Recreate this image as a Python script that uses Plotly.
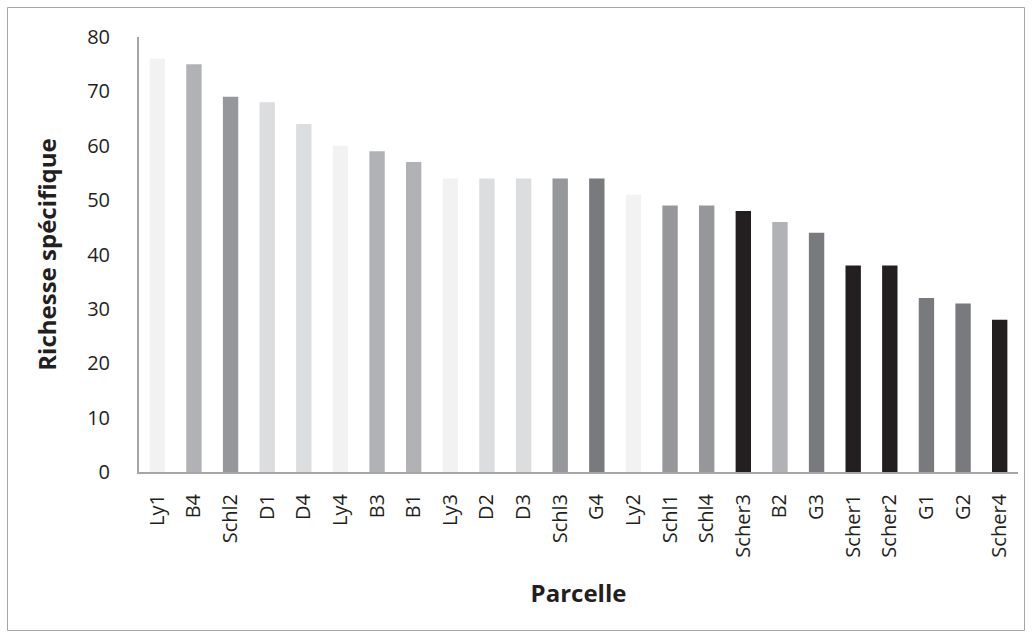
import plotly.graph_objects as go

categories = ["Ly1", "B4", "Schl2", "D1", "D4", "Ly4", "B3", "B1", "Ly3", "D2", "D3", "Schl3",
              "G4", "Ly2", "Schl1", "Schl4", "Scher3", "B2", "G3", "Scher1", "Scher2", "G1", "G2", "Scher4"]
values = [76, 75, 69, 68, 64, 60, 59, 57, 54, 54, 54, 54,
          54, 51, 49, 49, 48, 46, 44, 38, 38, 32, 31, 28]
group_colors = {"Ly": "#f2f2f3", "B": "#b1b2b5", "Schl": "#96979a", "D": "#dcdddf",
                "G": "#797a7e", "Scher": "#231f20"}


def group_of(name):
    return name.rstrip("0123456789")


colors = [group_colors[group_of(c)] for c in categories]

fig = go.Figure(go.Bar(x=categories, y=values, marker=dict(color=colors, line=dict(width=0)),
                       width=0.42))

W, H = 1032, 638
l, r, t, b = 139, 14, 37, 166
pw, ph = W - l - r, H - t - b


def px_x(p):
    return (p - l) / pw


def px_y(p):
    return (H - b - p) / ph


font = "'Open Sans', sans-serif"
txt = "#231f20"
fig.update_layout(
    width=W, height=H,
    margin=dict(l=l, r=r, t=t, b=b, autoexpand=False),
    paper_bgcolor="white", plot_bgcolor="white",
    showlegend=False,
    font=dict(family=font, color=txt),
    xaxis=dict(
        type="category", tickangle=-90, tickfont=dict(size=20, color=txt),
        showline=True, linecolor="#a6a6a6", linewidth=2, showgrid=False, automargin=False,
        ticks="", ticklabelstandoff=12, range=[-0.5, len(categories) - 0.5],
        title=dict(text="<b>Parcelle</b>", font=dict(size=24, color=txt), standoff=29),
    ),
    yaxis=dict(
        range=[0, 80], dtick=10, tickfont=dict(size=20, color=txt),
        showline=True, linecolor="#a6a6a6", linewidth=2, showgrid=False, automargin=False,
        ticks="", ticklabelstandoff=23, zeroline=False,
        title=dict(text="<b>Richesse spécifique</b>", font=dict(size=24, color=txt), standoff=24),
    ),
    shapes=[dict(type="rect", xref="paper", yref="paper",
                 x0=px_x(7.5), x1=px_x(1024.5), y0=px_y(630.5), y1=px_y(7.5),
                 line=dict(color="#a6a6a6", width=1), fillcolor="rgba(0,0,0,0)", layer="below")],
)

fig.write_html("out.html", config={"displayModeBar": False},
               post_script="document.body.style.margin='0';document.body.style.overflow='hidden';")
